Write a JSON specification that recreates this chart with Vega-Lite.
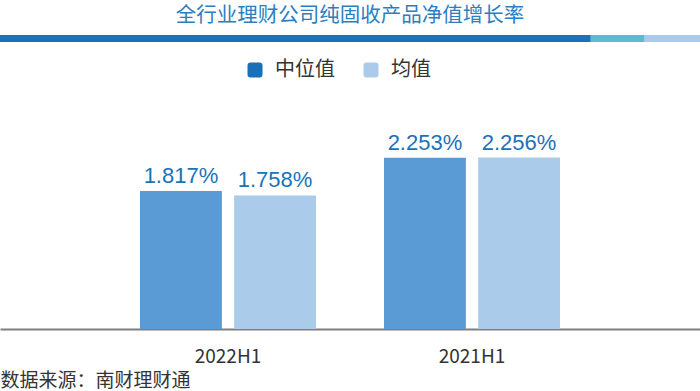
{
  "$schema": "https://vega.github.io/schema/vega-lite/v6.json",
  "background": "white",
  "padding": {"left": 0, "right": 0, "top": 5, "bottom": 0},
  "title": {"text": "全行业理财公司纯固收产品净值增长率", "font": "Noto Sans CJK SC", "fontSize": 20.5, "fontWeight": "normal", "color": "#2d7ec0", "anchor": "middle", "offset": 9},
  "spacing": 18,
  "vconcat": [
    {
      "width": 700,
      "height": 7,
      "data": {"values": [
        {"segment": "a", "share": 84.4},
        {"segment": "b", "share": 7.7},
        {"segment": "c", "share": 7.9}
      ]},
      "mark": {"type": "bar"},
      "encoding": {
        "x": {"field": "share", "type": "quantitative", "stack": "zero", "scale": {"domain": [0, 100], "nice": false}, "axis": null},
        "y": {"datum": "s", "type": "nominal", "axis": null, "scale": {"paddingInner": 0, "paddingOuter": 0}},
        "color": {"field": "segment", "type": "nominal", "scale": {"domain": ["a", "b", "c"], "range": ["#1a72bb", "#5bbcd0", "#abc9ea"]}, "legend": null},
        "order": {"field": "segment", "type": "nominal"}
      }
    },
    {
      "width": 700,
      "height": 228,
      "data": {"values": [
        {"period": "2022H1", "series": "中位值", "value": 1.817},
        {"period": "2022H1", "series": "均值", "value": 1.758},
        {"period": "2021H1", "series": "中位值", "value": 2.253},
        {"period": "2021H1", "series": "均值", "value": 2.256}
      ]},
      "encoding": {
        "x": {
          "field": "period", "type": "nominal", "sort": ["2022H1", "2021H1"],
          "scale": {"paddingInner": 0.2787, "paddingOuter": 0.5738},
          "axis": {
            "title": "数据来源：南财理财通", "titleFont": "Noto Sans CJK SC", "titleFontSize": 19, "titleFontWeight": "normal", "titleColor": "#333333",
            "titleAnchor": "start", "titleAlign": "left", "titlePadding": 5,
            "labelFont": "Noto Sans CJK SC", "labelFontSize": 19, "labelColor": "#333333", "labelAngle": 0, "labelPadding": 18,
            "ticks": false, "domainColor": "#7f7f7f", "domainWidth": 2, "grid": false
          }
        },
        "xOffset": {"field": "series", "type": "nominal", "sort": ["中位值", "均值"], "scale": {"paddingInner": 0.13, "paddingOuter": 0}},
        "y": {"field": "value", "type": "quantitative", "scale": {"domain": [0, 3], "nice": false, "zero": true}, "axis": null}
      },
      "layer": [
        {
          "mark": {"type": "bar"},
          "encoding": {
            "fill": {"field": "series", "type": "nominal", "scale": {"domain": ["中位值", "均值"], "range": ["#5b9bd5", "#abcbea"]}, "legend": null}
          }
        },
        {
          "transform": [{"calculate": "format(datum.value, '.3f') + '%'", "as": "label"}],
          "mark": {"type": "text", "baseline": "bottom", "dy": -3, "font": "Liberation Sans", "fontSize": 22, "color": "#1a72bb"},
          "encoding": {"text": {"field": "label", "type": "nominal"}}
        },
        {
          "transform": [{"filter": "false"}],
          "mark": {"type": "square"},
          "encoding": {
            "color": {
              "field": "series", "type": "nominal",
              "scale": {"domain": ["中位值", "均值"], "range": ["#1a70b8", "#abcbea"]},
              "legend": {
                "title": null, "orient": "none", "legendX": 245, "legendY": -41, "direction": "horizontal",
                "symbolType": "M -1 -0.6 Q -1 -1 -0.6 -1 L 0.6 -1 Q 1 -1 1 -0.6 L 1 0.6 Q 1 1 0.6 1 L -0.6 1 Q -1 1 -1 0.6 Z",
                "symbolSize": 225, "symbolStrokeWidth": 0, "symbolOpacity": 1,
                "labelFont": "Noto Sans CJK SC", "labelFontSize": 20, "labelColor": "#333333", "labelOffset": 10, "columnPadding": 26
              }
            }
          }
        }
      ]
    }
  ],
  "resolve": {"scale": {"color": "independent"}},
  "config": {"view": {"stroke": null}}
}
